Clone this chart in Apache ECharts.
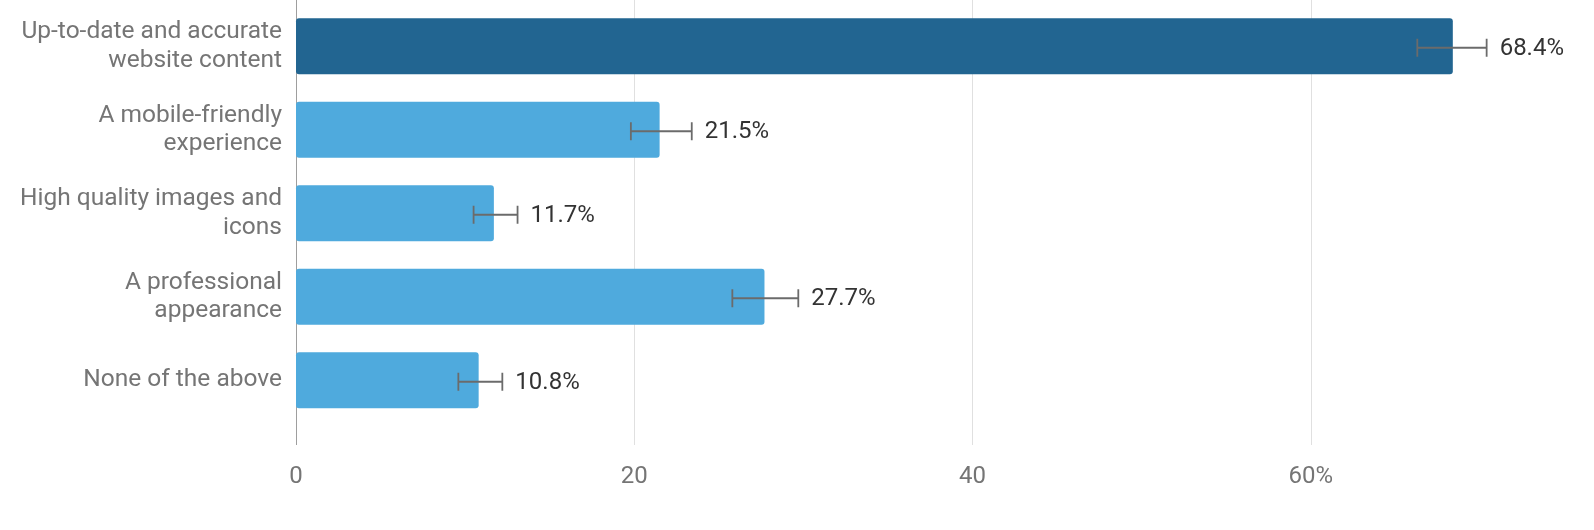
<!DOCTYPE html>
<html>
<head>
<meta charset="utf-8">
<script src="https://cdn.jsdelivr.net/npm/echarts@6/dist/echarts.min.js"></script>
<style>
html,body{margin:0;padding:0;background:#fff;}
#chart{width:1594px;height:530px;}
</style>
</head>
<body>
<div id="chart"></div>
<script>
const categories = [
  'Up-to-date and accurate\nwebsite content',
  'A mobile-friendly\nexperience',
  'High quality images and\nicons',
  'A professional\nappearance',
  'None of the above'
];
const values = [68.4, 21.5, 11.7, 27.7, 10.8];
const errLow = [66.3, 19.8, 10.5, 25.8, 9.6];
const errHigh = [70.4, 23.4, 13.1, 29.7, 12.2];
const xTickValues = [0, 20, 40, 60, 80];
const xTickLabels = ['0', '20', '40', '60%', '80'];
const highlightIndex = 0;

const chart = echarts.init(document.getElementById('chart'), null, {renderer: 'canvas'});
const FONT = 'Roboto';

const option = {
  animation: false,
  backgroundColor: '#ffffff',
  grid: [
    {left: 296, width: 1353, top: 4.5, height: 417.5, containLabel: false, outerBoundsMode: 'none'},
    {left: 296, width: 1353, top: 0, height: 445, containLabel: false, outerBoundsMode: 'none'}
  ],
  xAxis: [
    {gridIndex: 0, type: 'value', min: 0, max: 80, interval: 20, show: false},
    {
      gridIndex: 1, type: 'value', min: 0, max: 80, interval: 20,
      axisLine: {show: false}, axisTick: {show: false},
      splitLine: {show: true, lineStyle: {color: ['#9e9e9e', '#e0e0e0', '#e0e0e0', '#e0e0e0', '#e0e0e0'], width: 1}},
      axisLabel: {
        color: '#757575', fontSize: 24, fontFamily: FONT, margin: 20,
        formatter: function (v) { const i = xTickValues.indexOf(v); return i >= 0 ? xTickLabels[i] : ''; }
      }
    }
  ],
  yAxis: [
    {
      gridIndex: 0, type: 'category', inverse: true, data: categories,
      axisLine: {show: false}, axisTick: {show: false}, splitLine: {show: false},
      axisLabel: {color: '#757575', fontSize: 24.5, fontFamily: FONT, lineHeight: 28.5, margin: 14, align: 'right', padding: [4, 0, 0, 0]}
    },
    {gridIndex: 1, type: 'value', min: 0, max: 1, show: false}
  ],
  series: [
    {
      type: 'bar', xAxisIndex: 0, yAxisIndex: 0, barWidth: 56,
      data: values.map((v, i) => ({
        value: v,
        itemStyle: {color: i === highlightIndex ? '#226591' : '#4faadd', borderRadius: 3}
      }))
    },
    {
      type: 'custom', xAxisIndex: 0, yAxisIndex: 0, z: 5,
      encode: {y: 0, x: [1, 2]},
      data: values.map((v, i) => [i, errLow[i], errHigh[i], v]),
      renderItem: function (params, api) {
        const idx = api.value(0);
        const lo = api.coord([api.value(1), idx]);
        const hi = api.coord([api.value(2), idx]);
        const cy = lo[1] + 1.5;
        const h = 9;
        const st = {stroke: '#6b6b6b', lineWidth: 1.8};
        return {
          type: 'group',
          children: [
            {type: 'line', shape: {x1: lo[0], y1: cy, x2: hi[0], y2: cy}, style: st},
            {type: 'line', shape: {x1: lo[0], y1: cy - h, x2: lo[0], y2: cy + h}, style: st},
            {type: 'line', shape: {x1: hi[0], y1: cy - h, x2: hi[0], y2: cy + h}, style: st},
            {type: 'text', x: hi[0] + 13, y: cy + 1,
             style: {text: api.value(3).toFixed(1) + '%', fill: '#333333', fontSize: 24, fontFamily: FONT, align: 'left', verticalAlign: 'middle'}}
          ]
        };
      }
    }
  ]
};
chart.setOption(option);
</script>
</body>
</html>
